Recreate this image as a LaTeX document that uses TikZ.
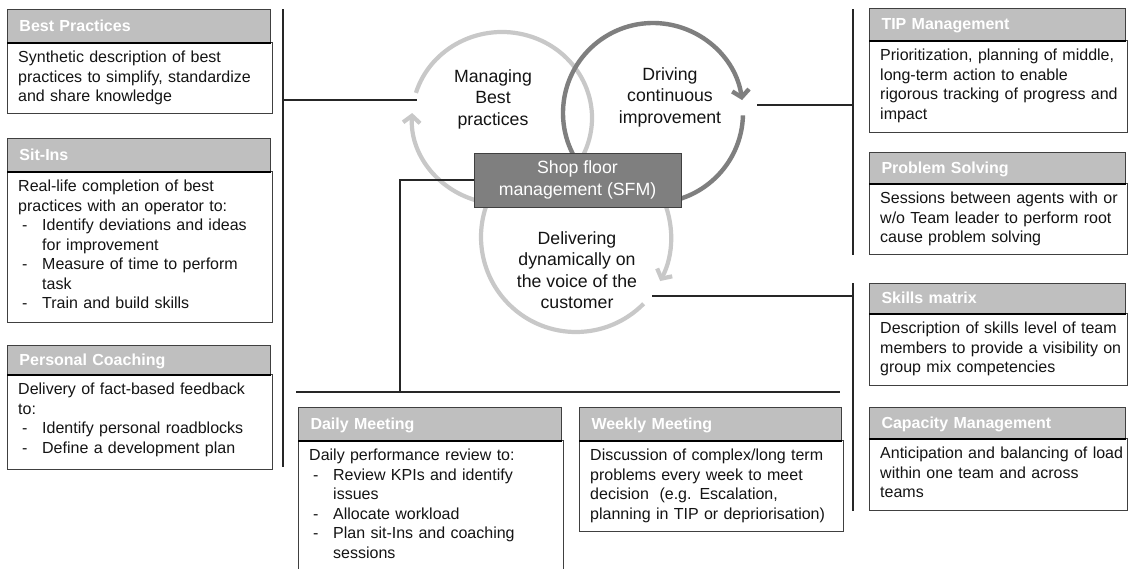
\documentclass[tikz,border=0pt]{standalone}
\usepackage{fontspec}
\setmainfont{Liberation Sans}
\usetikzlibrary{arrows.meta}
\definecolor{hdrgray}{HTML}{BFBFBF}
\definecolor{lightarc}{HTML}{C8C8C8}
\definecolor{darkarc}{HTML}{7F7F7F}
\definecolor{sfmfill}{HTML}{7F7F7F}
\definecolor{boxline}{HTML}{404040}
\definecolor{connc}{HTML}{262626}
\definecolor{bodytext}{HTML}{141414}
\newcommand{\bodyfont}{\fontsize{16}{19.5}\selectfont}
\newcommand{\hdrfont}{\bfseries\fontsize{16}{19}\selectfont}
\newcommand{\ringfont}{\fontsize{17.7}{21.5}\selectfont}
\newcommand{\bitem}[1]{\par\hangindent=24pt\hangafter=1\noindent\makebox[24pt][l]{\hspace{4pt}-}#1\par}
\newcommand{\infobox}[8]{%
  \pgfmathsetmacro{\ibtw}{#5-26}%
  \pgfmathsetmacro{\ibdy}{#3+#4}%
  \node[bodybox, minimum width=#5pt, minimum height=#6pt] (#1B) at (#2,\ibdy) {};
  \node[hdr, text width=\ibtw pt, minimum height=#4pt] (#1H) at (#2,#3) {#7};
  \draw[divider] (#1H.south west) -- (#1H.south east);
  \node[bodytxt] (#1T) at (#2+11,\ibdy+9) {#8};
}
\begin{document}
\begin{tikzpicture}[x=1pt,y=-1pt,
  hdr/.style={draw=boxline, line width=1pt, fill=hdrgray, anchor=north west, inner xsep=12pt, inner ysep=0pt, text=white, font=\hdrfont, align=left, text height=12.5pt, text depth=2.5pt},
  bodybox/.style={draw=boxline, line width=1pt, fill=white, anchor=north west, inner sep=0pt},
  bodytxt/.style={anchor=north west, inner sep=0pt, text width=250pt, align=left, font=\bodyfont, text=bodytext, execute at begin node={\parindent=0pt\parskip=0pt}},
  divider/.style={line width=2pt, draw=black},
  conn/.style={line width=1.2pt, draw=connc},
  lightring/.style={line width=4.2pt, draw=lightarc},
  darkring/.style={line width=4.4pt, draw=darkarc},
  ringtip/.style={-{Straight Barb[length=7pt,width=17pt]}},
  ringlabel/.style={align=center, font=\ringfont, text=bodytext, inner sep=0pt},
  sfmbox/.style={draw=boxline, line width=1pt, fill=sfmfill, text=white, font=\ringfont, align=center, minimum width=207pt, minimum height=54pt, inner sep=0pt}
]
\clip (0,0) rectangle (1129,568);
\fill[white] (0,0) rectangle (1129,568);

% connector coordinates
\coordinate (lvT) at (283,9);
\coordinate (lvB) at (283,467);
\coordinate (lvM) at (283,100);
\coordinate (c1L) at (417,100);
\coordinate (rvT) at (853,9);
\coordinate (rvB) at (853,255);
\coordinate (rvM) at (853,105);
\coordinate (c2R) at (757,105);
\coordinate (rwT) at (853,283);
\coordinate (rwB) at (853,511);
\coordinate (rwM) at (853,296);
\coordinate (c3R) at (652,296);
\coordinate (bhL) at (296,392);
\coordinate (bhR) at (840,392);
\coordinate (bhM) at (400,392);
\coordinate (sfmK) at (400,180);

\draw[conn] (lvT) -- (lvB);
\draw[conn] (lvM) -- (c1L);
\draw[conn] (rvT) -- (rvB);
\draw[conn] (c2R) -- (rvM);
\draw[conn] (rwT) -- (rwB);
\draw[conn] (c3R) -- (rwM);
\draw[conn] (bhL) -- (bhR);

% rings
\draw[lightring, ringtip] ([shift={(197:90 and 86)}]502,118) arc[start angle=197, end angle=543.3, x radius=90, y radius=86];
\draw[darkring, ringtip] ([shift={(1.5:90)}]653,113) arc[start angle=1.5, end angle=351.7, radius=90];
\draw[lightring] ([shift={(44.6:95)}]576,237) arc[start angle=44.6, end angle=205, radius=95];
\draw[lightring, ringtip] ([shift={(-25:95)}]576,237) arc[start angle=-25, end angle=27.6, radius=95];

% centre box
\node[sfmbox] (sfm) at (577.5,180) {Shop floor\\management (SFM)};
\draw[conn] (bhM) -- (sfmK) -- (sfm.west);

% ring labels
\node[ringlabel] (lbl1) at (493,99) {Managing\\Best\\practices};
\node[ringlabel] (lbl2) at (670,97) {Driving\\continuous\\improvement};
\node[ringlabel] (lbl3) at (577,270) {Delivering\\dynamically on\\the voice of the\\customer};

% info boxes
\infobox{bp}{7}{9}{33}{265}{71}{Best Practices}{Synthetic description of best\\practices to simplify, standardize\\and share knowledge}
\infobox{si}{7}{138}{33}{265}{151}{Sit-Ins}{Real-life completion of best\\practices with an operator to:\bitem{Identify deviations and ideas\newline for improvement}\bitem{Measure of time to perform\newline task}\bitem{Train and build skills}}
\infobox{pc}{7}{345}{29}{265}{95}{Personal Coaching}{Delivery of fact-based feedback\\to:\bitem{Identify personal roadblocks}\bitem{Define a development plan}}
\infobox{tm}{869}{8}{32}{258}{92}{TIP Management}{Prioritization, planning of middle,\\long-term action to enable\\rigorous tracking of progress and\\impact}
\infobox{ps}{869}{152}{31}{258}{71}{Problem Solving}{Sessions between agents with or\\w/o Team leader to perform root\\cause problem solving}
\infobox{sm}{869}{283}{30}{258}{72}{Skills matrix}{Description of skills level of team\\members to provide a visibility on\\group mix competencies}
\infobox{cm}{869}{407}{31}{258}{72}{Capacity Management}{Anticipation and balancing of load\\within one team and across\\teams}
\infobox{dm}{298}{407}{33}{265}{140}{Daily Meeting}{Daily performance review to:\bitem{Review KPIs and identify\newline issues}\bitem{Allocate workload}\bitem{Plan sit-Ins and coaching\newline sessions}}
\infobox{wm}{579}{407}{33}{264}{91}{Weekly Meeting}{Discussion of complex/long term\\problems every week to meet\\decision\ \ (e.g. Escalation,\\planning in TIP or depriorisation)}
\end{tikzpicture}
\end{document}
